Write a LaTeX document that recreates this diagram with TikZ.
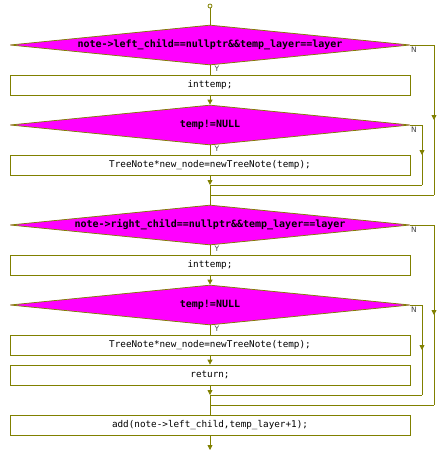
\documentclass[tikz,border=0pt]{standalone}
\usepackage{fontspec}
\setmonofont{DejaVu Sans Mono}
\setsansfont{DejaVu Sans}
\usetikzlibrary{shapes.geometric,arrows.meta,decorations.markings}
\definecolor{flowline}{RGB}{128,128,0}
\definecolor{condfill}{RGB}{255,0,255}
\tikzset{
  cond/.style={diamond, aspect=10, draw=flowline, fill=condfill, line width=0.75pt,
    minimum width=400pt, minimum height=40pt, inner sep=0pt,
    font=\ttfamily\bfseries\fontsize{10}{10}\selectfont},
  stmt/.style={rectangle, draw=flowline, line width=0.75pt,
    minimum width=400pt, minimum height=20pt, inner sep=0pt,
    font=\ttfamily\fontsize{9.3}{10}\selectfont},
  flow/.style={draw=flowline, line width=0.75pt},
  tip/.style={flow, -{Triangle[length=5pt,width=5pt]}},
  midtip/.style={flow, postaction={decorate}, decoration={markings,
    mark=at position 0.5 with {\arrow{Triangle[length=5pt,width=5pt]}}}},
  yn/.style={font=\sffamily\fontsize{7.5}{8}\selectfont, text=black!75, inner sep=0pt}
}
\begin{document}
\begin{tikzpicture}[x=1pt,y=-1pt]
  \useasboundingbox (0,0) rectangle (442,453);
  \node[circle, draw=flowline, line width=0.75pt, inner sep=0pt, minimum size=4pt] (start) at (210,6) {};
  \node[cond] (d1) at (210,45) {note->left\_child==nullptr\&\&temp\_layer==layer};
  \node[stmt] (b1) at (210,85) {inttemp;};
  \node[cond] (d2) at (210,125) {temp!=NULL};
  \node[stmt] (b2) at (210,165) {TreeNote*new\_node=newTreeNote(temp);};
  \node[cond] (d3) at (210,225) {note->right\_child==nullptr\&\&temp\_layer==layer};
  \node[stmt] (b3) at (210,265) {inttemp;};
  \node[cond] (d4) at (210,305) {temp!=NULL};
  \node[stmt] (b4) at (210,345) {TreeNote*new\_node=newTreeNote(temp);};
  \node[stmt] (b5) at (210,375) {return;};
  \node[stmt] (b6) at (210,425) {add(note->left\_child,temp\_layer+1);};
  % joins and corners
  \coordinate (j1) at (210,185);
  \coordinate (j2) at (210,195);
  \coordinate (j3) at (210,395);
  \coordinate (j4) at (210,405);
  \coordinate (end) at (210,450);
  \coordinate (r1) at (434,45);
  \coordinate (r1b) at (434,195);
  \coordinate (r2) at (422,125);
  \coordinate (r2b) at (422,185);
  \coordinate (r3) at (434,225);
  \coordinate (r3b) at (434,405);
  \coordinate (r4) at (422,305);
  \coordinate (r4b) at (422,395);
  % labels
  \node[yn] (y1) at (217,69) {Y};
  \node[yn] (y2) at (217,149) {Y};
  \node[yn] (y3) at (217,249) {Y};
  \node[yn] (y4) at (217,329) {Y};
  \node[yn] (n1) at (414,50) {N};
  \node[yn] (n2) at (414,130) {N};
  \node[yn] (n3) at (414,230) {N};
  \node[yn] (n4) at (414,310) {N};
  % main line
  \draw[flow] (start) -- (d1.north);
  \draw[flow] (d1.south) -- (b1.north);
  \draw[tip] (b1.south) -- (d2.north);
  \draw[flow] (d2.south) -- (b2.north);
  \draw[tip] (b2.south) -- (j1);
  \draw[flow] (j1) -- (d3.north);
  \draw[flow] (d3.south) -- (b3.north);
  \draw[tip] (b3.south) -- (d4.north);
  \draw[flow] (d4.south) -- (b4.north);
  \draw[tip] (b4.south) -- (b5.north);
  \draw[tip] (b5.south) -- (j3);
  \draw[flow] (j3) -- (b6.north);
  \draw[tip] (b6.south) -- (end);
  % no branches
  \draw[flow] (d1.east) -- (r1);
  \draw[midtip] (r1) -- (r1b);
  \draw[flow] (r1b) -- (j2);
  \draw[flow] (d2.east) -- (r2);
  \draw[midtip] (r2) -- (r2b);
  \draw[flow] (r2b) -- (j1);
  \draw[flow] (d3.east) -- (r3);
  \draw[midtip] (r3) -- (r3b);
  \draw[flow] (r3b) -- (j4);
  \draw[flow] (d4.east) -- (r4);
  \draw[midtip] (r4) -- (r4b);
  \draw[flow] (r4b) -- (j3);
\end{tikzpicture}
\end{document}
